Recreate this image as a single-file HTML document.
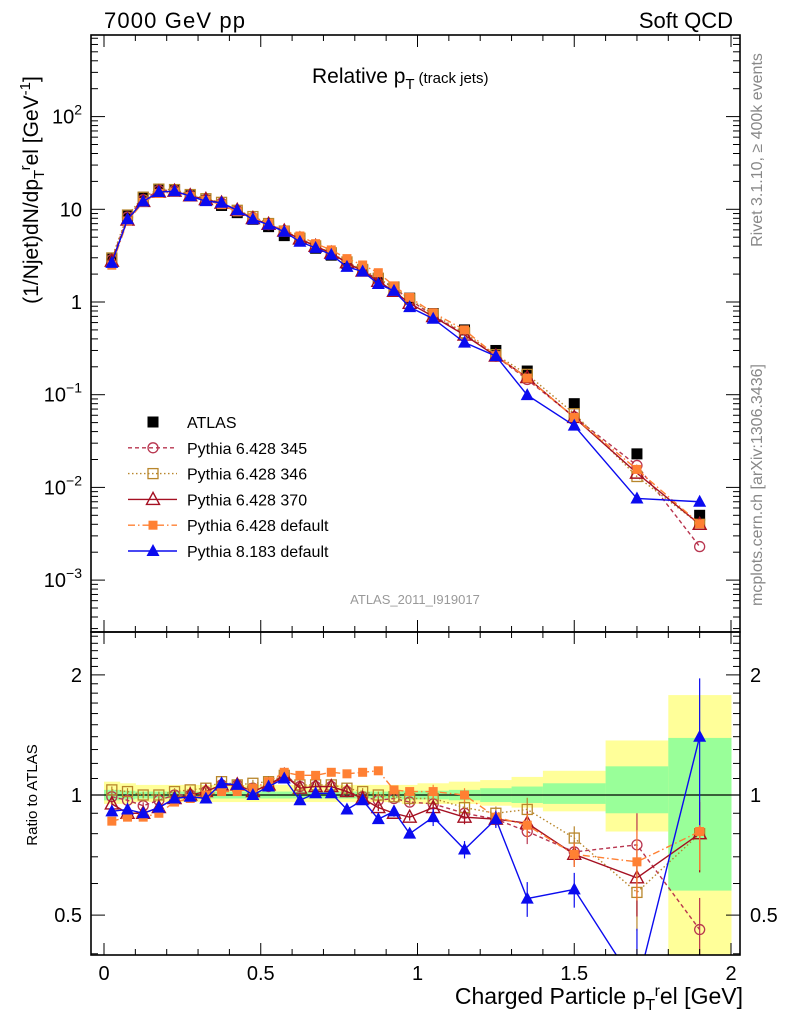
<!DOCTYPE html>
<html><head><meta charset="utf-8"><style>
html,body{margin:0;background:#fff;overflow:hidden;width:786px;height:1024px;}
svg{display:block;font-family:"Liberation Sans",sans-serif;}
</style></head><body>
<svg id="c" width="786" height="1024" viewBox="0 0 786 1024" xmlns="http://www.w3.org/2000/svg"></svg>
<script>
const xs=[0.025,0.075,0.125,0.175,0.225,0.275,0.325,0.375,0.425,0.475,0.525,0.575,0.625,0.675,0.725,0.775,0.825,0.875,0.925,0.975,1.05,1.15,1.25,1.35,1.5,1.7,1.9];
const atlas=[2.9,8.5,13.5,16.5,16,14,12.5,11,9.2,7.8,6.5,5.2,4.6,3.8,3.2,2.6,2.2,1.8,1.45,1.1,0.75,0.5,0.3,0.18,0.08,0.023,0.005];
const r345=[0.99,0.97,0.94,0.97,1.0,1.0,1.02,1.06,1.06,1.04,1.05,1.12,1.05,1.05,1.05,1.02,0.99,0.97,0.98,0.96,0.95,0.9,0.87,0.81,0.72,0.75,0.46];
const r346=[1.03,1.02,1.0,1.0,1.02,1.03,1.04,1.08,1.06,1.07,1.08,1.12,1.06,1.06,1.06,1.04,1.02,1.0,0.99,0.98,0.98,0.93,0.9,0.92,0.78,0.57,0.8];
const r370=[0.95,0.9,0.9,0.93,0.98,1.0,1.02,1.06,1.06,1.02,1.06,1.12,1.04,1.05,1.05,1.02,0.98,0.93,0.9,0.88,0.93,0.88,0.87,0.85,0.71,0.62,0.8];
const rdef=[0.86,0.88,0.88,0.9,0.96,0.98,1.0,1.02,1.02,1.04,1.08,1.14,1.12,1.12,1.14,1.13,1.14,1.15,1.03,1.02,1.02,1.0,0.88,0.84,0.71,0.68,0.81];
const rp8=[0.91,0.92,0.9,0.93,0.98,0.99,0.98,1.07,1.06,1.0,1.05,1.1,0.97,1.01,1.01,0.92,0.97,0.87,0.91,0.8,0.88,0.73,0.87,0.55,0.58,0.33,1.4];
const binLo=[0,0.05,0.1,0.15,0.2,0.25,0.3,0.35,0.4,0.45,0.5,0.55,0.6,0.65,0.7,0.75,0.8,0.85,0.9,0.95,1.0,1.1,1.2,1.3,1.4,1.6,1.8];
const binHi=[0.05,0.1,0.15,0.2,0.25,0.3,0.35,0.4,0.45,0.5,0.55,0.6,0.65,0.7,0.75,0.8,0.85,0.9,0.95,1.0,1.1,1.2,1.3,1.4,1.6,1.8,2.0];
const greenUp=[1.03,1.025,1.02,1.02,1.02,1.02,1.02,1.02,1.02,1.02,1.02,1.02,1.02,1.02,1.02,1.02,1.02,1.02,1.02,1.025,1.025,1.03,1.04,1.05,1.07,1.18,1.39];
const greenDn=[0.97,0.975,0.98,0.98,0.98,0.98,0.98,0.98,0.98,0.98,0.98,0.98,0.98,0.98,0.98,0.98,0.98,0.98,0.98,0.975,0.975,0.97,0.96,0.955,0.95,0.90,0.576];
const yelUp=[1.08,1.07,1.06,1.06,1.06,1.06,1.06,1.06,1.06,1.06,1.06,1.06,1.06,1.06,1.06,1.06,1.06,1.06,1.06,1.06,1.07,1.08,1.09,1.11,1.15,1.37,1.78];
const yelDn=[0.95,0.95,0.96,0.96,0.96,0.96,0.96,0.96,0.96,0.96,0.96,0.96,0.96,0.96,0.96,0.96,0.96,0.96,0.96,0.95,0.95,0.95,0.94,0.93,0.91,0.81,0.3];
const xTicks=[0,0.5,1,1.5,2];
const xTickLabels=["0","0.5","1","1.5","2"];

const S=document.getElementById('c');const NS='http://www.w3.org/2000/svg';
function el(t,a,p){const e=document.createElementNS(NS,t);for(const k in a)e.setAttribute(k,a[k]);(p||S).appendChild(e);return e;}
const L=91,R=740,T=35,MB=632,B=955;
const X=v=>104+v*313.5;
const Y=v=>302-92.7*Math.log10(v);
const YR=v=>795-399*Math.log10(v);
const clipR=el('clipPath',{id:'cr'});el('rect',{x:L,y:MB,width:R-L,height:B-MB},clipR);
const clipM=el('clipPath',{id:'cm'});el('rect',{x:L,y:T,width:R-L,height:MB-T},clipM);

const gb=el('g',{'clip-path':'url(#cr)'});

for(let i=0;i<xs.length;i++){
 const y=el('rect',{x:X(binLo[i]),y:YR(yelUp[i]),width:X(binHi[i])-X(binLo[i])+0.5,height:YR(yelDn[i])-YR(yelUp[i]),fill:'#ffff99'},gb);
 
 const g=el('rect',{x:X(binLo[i]),y:YR(greenUp[i]),width:X(binHi[i])-X(binLo[i])+0.5,height:YR(greenDn[i])-YR(greenUp[i]),fill:'#99ff99'},gb);
 
}
el('line',{x1:L,x2:R,y1:YR(1),y2:YR(1),stroke:'#000','stroke-width':1.3});

const series=[
 {n:'pythia-6428-345',r:r345,c:'#b8354f',d:'4,3',m:'circle'},
 {n:'pythia-6428-346',r:r346,c:'#b8862b',d:'1.5,2.5',m:'osquare'},
 {n:'pythia-6428-370',r:r370,c:'#a51022',d:'',m:'otri'},
 {n:'pythia-6428-default',r:rdef,c:'#ff8033',d:'7,3,1.5,3',m:'fsquare'},
 {n:'pythia-8183-default',r:rp8,c:'#0b0bef',d:'',m:'ftri'}];
function marker(g,m,x,y,c,name){
 let e;
 if(m=='circle')e=el('circle',{cx:x,cy:y,r:5,fill:'none',stroke:c,'stroke-width':1.3},g);
 else if(m=='osquare')e=el('rect',{x:x-5,y:y-5,width:10,height:10,fill:'none',stroke:c,'stroke-width':1.3},g);
 else if(m=='fsquare')e=el('rect',{x:x-4.5,y:y-4.5,width:9,height:9,fill:c},g);
 else if(m=='bsquare')e=el('rect',{x:x-5.5,y:y-5.5,width:11,height:11,fill:c},g);
 else if(m=='otri')e=el('polygon',{points:`${x},${y-7} ${x-6.5},${y+5} ${x+6.5},${y+5}`,fill:'none',stroke:c,'stroke-width':1.4},g);
 else e=el('polygon',{points:`${x},${y-7} ${x-6.5},${y+5} ${x+6.5},${y+5}`,fill:c},g);
 
}
const ga=el('g',{'clip-path':'url(#cm)'});

for(let i=0;i<xs.length;i++) marker(ga,'bsquare',X(xs[i]),Y(atlas[i]),'#000','atlas-point');
for(const s of series){
 const gm=el('g',{'clip-path':'url(#cm)'});
 
 const pts=xs.map((x,i)=>X(x)+','+Y(atlas[i]*s.r[i])).join(' ');
 el('polyline',{points:pts,fill:'none',stroke:s.c,'stroke-width':1.4,'stroke-dasharray':s.d},gm);
 xs.forEach((x,i)=>marker(gm,s.m,X(x),Y(atlas[i]*s.r[i]),s.c,'main-point'));
 const gr=el('g',{'clip-path':'url(#cr)'});
 
 el('polyline',{points:xs.map((x,i)=>X(x)+','+YR(s.r[i])).join(' '),fill:'none',stroke:s.c,'stroke-width':1.4,'stroke-dasharray':s.d},gr);
 xs.forEach((x,i)=>{
  const err=s.n.includes('8183')?(i<20?0.02:i<23?0.05:i<25?0.1:0.4):(i<20?0.02:i<23?0.04:i<25?0.07:0.2);
  el('line',{x1:X(x),x2:X(x),y1:YR(s.r[i]*(1+err)),y2:YR(Math.max(0.01,s.r[i]*(1-err))),stroke:s.c,'stroke-width':1.2},gr);
  marker(gr,s.m,X(x),YR(s.r[i]),s.c,'ratio-point');
 });
}
el('rect',{x:L,y:T,width:R-L,height:MB-T,fill:'none',stroke:'#000','stroke-width':1.6});
el('rect',{x:L,y:MB,width:R-L,height:B-MB,fill:'none',stroke:'#000','stroke-width':1.6});
for(let v=0;v<=2.001;v+=0.1){const big=Math.abs(v*2-Math.round(v*2))<1e-6,len=big?12:6;
 for(const [y0,dir] of [[T,1],[MB,-1],[MB,1],[B,-1]]) el('line',{x1:X(v),x2:X(v),y1:y0,y2:y0+dir*len,stroke:'#000','stroke-width':1});}
xTicks.forEach((v,i)=>{const t=el('text',{x:X(v),y:980,'font-size':20,'text-anchor':'middle'});t.textContent=xTickLabels[i];
 });
for(let d=-4;d<=3;d++)for(let k=1;k<10;k++){const v=k*Math.pow(10,d),y=Y(v);if(y<T||y>MB)continue;const len=k==1?14:7;
 el('line',{x1:L,x2:L+len,y1:y,y2:y,stroke:'#000'});el('line',{x1:R,x2:R-len,y1:y,y2:y,stroke:'#000'});}
const ylab=[[100,'10','2'],[10,'10',''],[1,'1',''],[0.1,'10','−1'],[0.01,'10','−2'],[0.001,'10','−3']];
ylab.forEach(([v,b,e])=>{const t=el('text',{x:82,y:Y(v)+7,'font-size':20,'text-anchor':'end'});
 
 const b1=el('tspan',{},t);b1.textContent=b;
 if(e){const s2=el('tspan',{dy:-9,'font-size':14},t);s2.textContent=e;}});
for(let v=0.4;v<=2.6;v+=0.1){const y=YR(v);if(y<MB||y>B)continue;const big=[0.5,1,2].some(q=>Math.abs(q-v)<1e-6);const len=big?14:7;
 el('line',{x1:L,x2:L+len,y1:y,y2:y,stroke:'#000'});el('line',{x1:R,x2:R-len,y1:y,y2:y,stroke:'#000'});}
[[2,'2'],[1,'1'],[0.5,'0.5']].forEach(([v,s])=>{
 const t=el('text',{x:82,y:YR(v)+7,'font-size':20,'text-anchor':'end'});t.textContent=s;
 const t2=el('text',{x:750,y:YR(v)+7,'font-size':20});t2.textContent=s;});
function txt(x,y,s,a,name,extra){const t=el('text',Object.assign({x:x,y:y,'font-size':19,'text-anchor':a||'start'},extra||{}));t.innerHTML=s;return t;}
txt(104,28,'7000 GeV pp','start','top-left-label',{'font-size':22,textLength:141});
txt(733,28,'Soft QCD','end','top-right-label',{'font-size':22});
txt(312,83,'Relative p<tspan font-size="15" dy="6">T</tspan><tspan dy="-6" font-size="15"> (track jets)</tspan>','start','plot-title',{'font-size':21});
txt(415,604,'ATLAS_2011_I919017','middle','analysis-id',{'font-size':13,fill:'#999'});
txt(0,0,'(1/Njet)dN/dp<tspan font-size="15" dy="6">T</tspan><tspan font-size="15" dy="-14">r</tspan><tspan dy="8">el [GeV</tspan><tspan font-size="15" dy="-8">-1</tspan><tspan dy="8">]</tspan>','middle','y-axis-title',{transform:'translate(38,190) rotate(-90)','font-size':21});
txt(0,0,'Ratio to ATLAS','middle','ratio-y-axis-title',{transform:'translate(37,795) rotate(-90)','font-size':15});
txt(743,1004,'Charged Particle p<tspan font-size="16" dy="6">T</tspan><tspan font-size="16" dy="-14">r</tspan><tspan dy="8">el [GeV]</tspan>','end','x-axis-title',{'font-size':23});
txt(0,0,'Rivet 3.1.10, ≥ 400k events','middle','rivet-label',{transform:'translate(762,150) rotate(-90)','font-size':16,fill:'#888'});
txt(0,0,'mcplots.cern.ch [arXiv:1306.3436]','middle','mcplots-label',{transform:'translate(762,485) rotate(-90)','font-size':16,fill:'#888'});
const names=['ATLAS','Pythia 6.428 345','Pythia 6.428 346','Pythia 6.428 370','Pythia 6.428 default','Pythia 8.183 default'];
const lg=el('g',{});
names.forEach((n,i)=>{const y=422+i*25.8;
 if(i==0)marker(lg,'bsquare',153,y,'#000','legend-marker');
 else{const s=series[i-1];el('line',{x1:128,x2:177,y1:y,y2:y,stroke:s.c,'stroke-width':1.4,'stroke-dasharray':s.d},lg);marker(lg,s.m,153,y,s.c,'legend-marker');}
 const t=el('text',{x:187,y:y+6,'font-size':16},lg);t.textContent=n;});
</script>
</body></html>
